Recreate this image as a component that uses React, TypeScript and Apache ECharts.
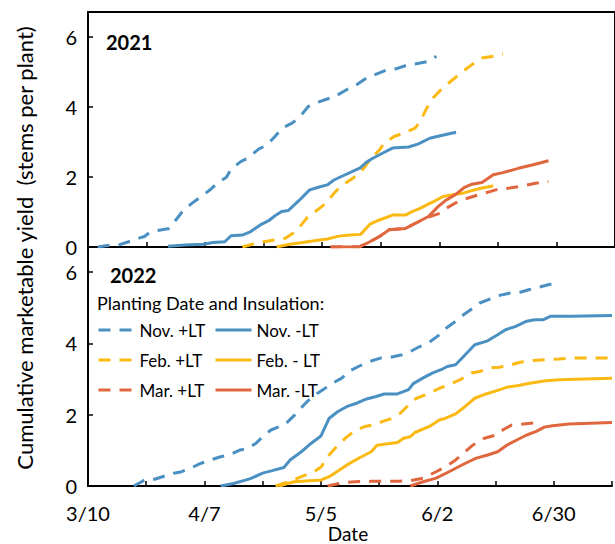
import React, { useEffect, useRef } from "react";
import * as echarts from "echarts";

// x values are days after 3/10; y values are cumulative stems per plant
const xTickLabels = ["3/10", "4/7", "5/5", "6/2", "6/30"];
const seriesNames = ["Nov. +LT", "Nov. -LT", "Feb. +LT", "Feb. - LT", "Mar. +LT", "Mar. -LT"];

const nov21PlusLT = [[2.3,0],[4.7,0.04],[7.4,0.06],[9.7,0.15],[12.4,0.26],[13.5,0.3],[14.7,0.41],[16.7,0.47],[19.4,0.53],[21,0.77],[22.9,1.06],[24.9,1.25],[26.8,1.42],[29.2,1.63],[30.7,1.8],[33.1,1.99],[34.2,2.22],[36.6,2.44],[38.1,2.53],[40.8,2.79],[42.8,2.91],[44.7,3.15],[46.5,3.4],[48.8,3.53],[50.6,3.7],[52.6,4.0],[54.1,4.09],[57.2,4.22],[59.2,4.3],[61.9,4.49],[63.9,4.6],[66.6,4.82],[68.1,4.89],[71.2,5.04],[73.6,5.08],[76.7,5.2],[78.2,5.22],[81.4,5.29],[83.3,5.44]];
const nov21MinusLT = [[19.1,0.02],[23.3,0.06],[27.6,0.08],[29.9,0.13],[32.7,0.15],[34.2,0.32],[36.9,0.34],[38.9,0.44],[41.2,0.63],[43.2,0.75],[44.7,0.89],[46.3,1.01],[47.9,1.04],[50.4,1.32],[53,1.63],[55.3,1.71],[57.2,1.77],[58.8,1.91],[61.5,2.06],[63.5,2.17],[65,2.25],[66.6,2.42],[68.1,2.53],[70.5,2.68],[72.8,2.82],[76.7,2.85],[79,2.94],[81.7,3.1],[84.5,3.18],[88,3.27]];
const feb21PlusLT = [[36.9,0],[39.3,0.08],[42,0.15],[44.7,0.2],[47.2,0.25],[49,0.39],[51,0.63],[52.6,0.87],[54.9,1.06],[56.9,1.25],[58.8,1.53],[60.3,1.72],[62.7,1.91],[64.6,2.06],[66.2,2.29],[67.7,2.53],[69.7,2.77],[70.8,2.96],[73.2,3.15],[75.5,3.25],[78.2,3.39],[79.4,3.58],[81,3.96],[82.5,4.25],[84.5,4.5],[86.4,4.69],[88.4,4.89],[89.9,5.03],[91.8,5.2],[94.2,5.39],[96.9,5.44],[99.2,5.5]];
const feb21MinusLT = [[45.1,0],[48.2,0.08],[51.3,0.13],[53.7,0.17],[55.3,0.2],[57.2,0.23],[60,0.31],[62.7,0.34],[65.2,0.36],[67.4,0.65],[69.7,0.77],[72.8,0.91],[75.9,0.91],[77.5,1.01],[79.4,1.1],[81,1.2],[82.9,1.31],[84.9,1.44],[87.2,1.49],[89.5,1.53],[91.5,1.6],[94.2,1.68],[96.9,1.74]];
const mar21PlusLT = [[58,0],[65,0.01],[67.4,0.15],[69.7,0.3],[72,0.49],[75.9,0.53],[79,0.72],[81.4,0.85],[84.1,0.96],[85.6,1.1],[88.4,1.29],[90.7,1.39],[93.4,1.49],[96.1,1.58],[98.1,1.65],[100.8,1.68],[103.9,1.74],[107,1.82],[110.1,1.87]];
const mar21MinusLT = [[58,0],[65,0.01],[67.4,0.15],[69.7,0.3],[72,0.49],[75.9,0.53],[79,0.72],[81.4,0.87],[83.7,1.15],[85.3,1.31],[87.9,1.5],[89.9,1.69],[91.8,1.79],[94.2,1.84],[96.9,2.06],[99.2,2.12],[103.1,2.25],[106.2,2.34],[110.1,2.46]];

const nov22PlusLT = [[11,0],[12.9,0.12],[13.6,0.17],[16,0.19],[17.9,0.26],[20.7,0.36],[22.5,0.4],[25.4,0.54],[26.8,0.62],[30,0.75],[31.9,0.82],[33.9,0.87],[36.6,1.01],[38.6,1.06],[40.4,1.2],[42.4,1.43],[44,1.57],[45.1,1.62],[47.5,1.74],[49.6,1.98],[52.7,2.37],[55.2,2.6],[56.5,2.7],[58.8,2.88],[61.1,3.03],[62.7,3.21],[65,3.35],[67.7,3.49],[70.5,3.59],[72.8,3.61],[75.5,3.68],[77.5,3.77],[79.8,3.91],[82.1,4.03],[84.5,4.24],[85.6,4.38],[88.4,4.62],[90.3,4.8],[92.6,4.99],[94.2,5.13],[96.9,5.25],[99.2,5.35],[101.6,5.41],[103.9,5.43],[106.2,5.51],[108.6,5.58],[110.9,5.65],[113.3,5.67]];
const nov22MinusLT = [[31.9,0],[35,0.07],[38.9,0.2],[42,0.36],[44.3,0.43],[47.1,0.52],[48.6,0.73],[51.3,0.96],[53.7,1.2],[56,1.4],[58,1.9],[60.1,2.09],[62.3,2.23],[64.6,2.32],[67,2.44],[69.3,2.51],[71.2,2.58],[74.4,2.58],[77.1,2.7],[78.2,2.87],[80.6,3.03],[82.9,3.17],[84.9,3.26],[86.4,3.35],[88.4,3.4],[90.7,3.68],[93,3.96],[96.1,4.07],[98.5,4.24],[100.4,4.38],[102.7,4.47],[105.5,4.62],[107.4,4.66],[109.4,4.66],[111.3,4.76],[116.3,4.76],[126,4.78]];
const feb22PlusLT = [[45.1,0],[48.2,0.12],[51.3,0.26],[54.4,0.4],[56.1,0.54],[57.6,0.82],[59.6,1.08],[61.9,1.34],[63.9,1.53],[66.6,1.67],[68.5,1.71],[70.9,1.81],[73.2,1.9],[75.1,2.04],[77.5,2.32],[79,2.46],[82.1,2.6],[84.5,2.74],[86.8,2.84],[89.5,2.98],[92.2,3.17],[94.2,3.21],[96.5,3.31],[98.9,3.33],[101.2,3.38],[103.9,3.47],[107,3.52],[110.1,3.54],[113.3,3.56],[117.2,3.59],[126,3.59]];
const feb22MinusLT = [[45.9,0],[49.5,0.12],[56.1,0.17],[58,0.26],[61.1,0.5],[62.7,0.62],[65.4,0.8],[68.1,0.96],[69.5,1.14],[71.6,1.18],[74.4,1.22],[75.9,1.34],[77.5,1.38],[78.6,1.5],[82.1,1.67],[84.5,1.85],[86,1.9],[88.4,2.02],[90.7,2.23],[93,2.46],[95.7,2.58],[98.5,2.68],[100.8,2.77],[103.5,2.82],[106.2,2.88],[110.1,2.95],[113.3,2.98],[126,3.02]];
const mar22PlusLT = [[57.6,0],[61.1,0.09],[64.2,0.12],[68.1,0.13],[71.2,0.13],[74.4,0.13],[77.5,0.15],[80.6,0.22],[83.7,0.4],[86,0.54],[88.4,0.73],[90.3,0.92],[92.6,1.15],[95.3,1.34],[98.1,1.43],[100,1.59],[101.9,1.71],[104.7,1.74],[108.6,1.78]];
const mar22MinusLT = [[77.5,0],[80.6,0.12],[83.7,0.22],[86.8,0.4],[89.1,0.54],[91.5,0.68],[93.4,0.78],[96.1,0.87],[98.5,0.96],[100.8,1.15],[103.1,1.29],[105.5,1.43],[107.8,1.53],[109.7,1.65],[111.7,1.69],[115.6,1.74],[126,1.78]];

const data2021 = [nov21PlusLT, nov21MinusLT, feb21PlusLT, feb21MinusLT, mar21PlusLT, mar21MinusLT];
const data2022 = [nov22PlusLT, nov22MinusLT, feb22PlusLT, feb22MinusLT, mar22PlusLT, mar22MinusLT];

const BLUE = "#4A90C2";
const GOLD = "#FBB913";
const RED = "#E0663D";
const colors = [BLUE, BLUE, GOLD, GOLD, RED, RED];
const FONT = "Lato";
const DASH = [12, 9];

export default function App() {
  const ref = useRef<HTMLDivElement>(null);
  useEffect(() => {
    document.body.style.margin = "0";
    if (!ref.current) return;
    const chart = echarts.init(ref.current, null, { renderer: "svg" });

    const xAxisBase = (gi: number, showLabel: boolean) => ({
      type: "value",
      gridIndex: gi,
      min: 0,
      max: 126,
      interval: 14,
      axisLine: { show: true, lineStyle: { color: "#000", width: 2 } },
      axisTick: { show: true, inside: true, length: 5, lineStyle: { color: "#000", width: 1.5 } },
      splitLine: { show: false },
      axisLabel: {
        show: showLabel,
        margin: 17,
        fontFamily: FONT,
        fontSize: 20,
        color: "#000",
        formatter: (v: number) => (v % 28 === 0 ? xTickLabels[v / 28] ?? "" : ""),
      },
    });
    const yAxisBase = (gi: number) => ({
      type: "value",
      gridIndex: gi,
      min: 0,
      max: 6.7,
      interval: 2,
      axisLine: { show: true, lineStyle: { color: "#000", width: 2 } },
      axisTick: { show: true, inside: true, length: 5, lineStyle: { color: "#000", width: 1.5 } },
      splitLine: { show: false },
      axisLabel: {
        margin: 11,
        fontFamily: FONT,
        fontSize: 20,
        color: "#000",
        showMaxLabel: false,
        formatter: (v: number) => (v % 2 === 0 ? String(v) : ""),
      },
    });

    const series: any[] = [];
    [data2021, data2022].forEach((set, gi) => {
      set.forEach((d, i) => {
        const dashed = i % 2 === 0;
        series.push({
          type: "line",
          name: seriesNames[i],
          xAxisIndex: gi,
          yAxisIndex: gi,
          data: d,
          symbol: "none",
          showSymbol: false,
          z: dashed ? 2 : 3,
          lineStyle: { color: colors[i], width: 3, type: dashed ? DASH : "solid", cap: "butt" },
          itemStyle: { color: colors[i] },
        });
      });
    });

    const legendPos = [
      [97, 330], [214, 330],
      [97, 360], [214, 360],
      [97, 390], [214, 390],
    ];
    const legends = seriesNames.map((n, i) => ({
      data: [n],
      left: legendPos[i][0],
      top: legendPos[i][1] - 10,
      padding: 0,
      itemWidth: 36,
      itemHeight: 20,
      selectedMode: false,
      itemStyle: { opacity: 0, borderWidth: 0 },
      lineStyle: { color: colors[i], width: 3, type: i % 2 === 0 ? DASH : "solid", cap: "butt" },
      textStyle: { fontFamily: FONT, fontSize: 17, color: "#000", lineHeight: 20 },
    }));

    chart.setOption({
      animation: false,
      backgroundColor: "#fff",
      grid: [
        { left: 88, top: 12, width: 540, height: 235, show: true, borderColor: "#000", borderWidth: 2, containLabel: false },
        { left: 88, top: 247, width: 540, height: 239, containLabel: false },
      ],
      xAxis: [xAxisBase(0, false), xAxisBase(1, true)],
      yAxis: [yAxisBase(0), yAxisBase(1)],
      legend: legends,
      series,
      graphic: [
        {
          type: "text",
          x: 24,
          y: 248,
          rotation: Math.PI / 2,
          style: {
            text: "Cumulative marketable yield  (stems per plant)",
            fontFamily: FONT,
            fontSize: 22,
            fill: "#000",
            textAlign: "center",
            textVerticalAlign: "middle",
          },
        },
        {
          type: "text",
          x: 106,
          y: 42,
          style: { text: "2021", fontFamily: FONT, fontSize: 20, fontWeight: "bold", fill: "#000", textVerticalAlign: "middle" },
        },
        {
          type: "text",
          x: 110,
          y: 275,
          style: { text: "2022", fontFamily: FONT, fontSize: 20, fontWeight: "bold", fill: "#000", textVerticalAlign: "middle" },
        },
        {
          type: "text",
          x: 97,
          y: 303,
          style: { text: "Planting Date and Insulation:", fontFamily: FONT, fontSize: 18, fill: "#000", textVerticalAlign: "middle" },
        },
        {
          type: "text",
          x: 348,
          y: 533,
          style: { text: "Date", fontFamily: FONT, fontSize: 19, fill: "#000", textAlign: "center", textVerticalAlign: "middle" },
        },
      ],
    });
    return () => chart.dispose();
  }, []);
  return <div ref={ref} style={{ width: 615, height: 544 }} />;
}
